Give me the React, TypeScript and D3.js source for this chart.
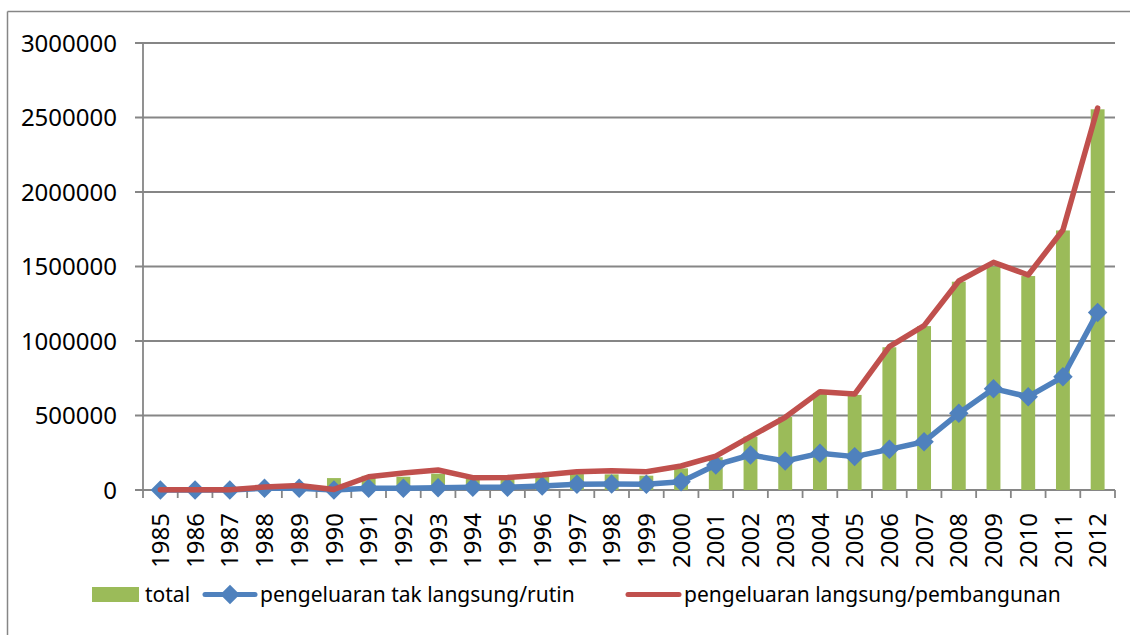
import React from 'react'
import * as d3 from 'd3'

// years on the category axis
const years = [
    '1985', '1986', '1987', '1988', '1989', '1990', '1991', '1992', '1993', '1994',
    '1995', '1996', '1997', '1998', '1999', '2000', '2001', '2002', '2003', '2004',
    '2005', '2006', '2007', '2008', '2009', '2010', '2011', '2012'
]

// total (bars)
const total = [
    5000, 3000, 4000, 25000, 35000, 80000, 95000, 89000, 110000, 80000,
    82000, 90000, 107000, 105000, 96000, 145000, 220000, 358000, 490000, 650000,
    638000, 958000, 1100000, 1398000, 1500000, 1436000, 1742000, 2555000
]

// pengeluaran tak langsung/rutin (blue line)
const rutin = [
    0, 0, 0, 11000, 12000, 0, 11000, 12000, 15000, 18000,
    19000, 27000, 38000, 40000, 38000, 56000, 168000, 235000, 195000, 246000,
    224000, 273000, 324000, 515000, 680000, 626000, 760000, 1192000
]

// pengeluaran langsung/pembangunan (red line)
const pembangunan = [
    2000, 2000, 2000, 20000, 30000, 4000, 89000, 114000, 134000, 83000,
    84000, 100000, 123000, 130000, 122000, 161000, 228000, 358000, 488000, 660000,
    644000, 962000, 1103000, 1403000, 1528000, 1443000, 1745000, 2563000
]

const yTicks = [0, 500000, 1000000, 1500000, 2000000, 2500000, 3000000]

const legendLabels = ['total', 'pengeluaran tak langsung/rutin', 'pengeluaran langsung/pembangunan']

const GREEN = '#9BBB59'
const BLUE = '#4F81BD'
const RED = '#C0504D'
const GRID = '#868686'
const FONT = '"Noto Sans", "Open Sans", sans-serif'

const W = 1130
const H = 635
const left = 143
const right = 1115
const top = 43
const bottom = 490

const App = () => {
    const x = d3.scaleBand().domain(years).range([left, right]).padding(0)
    const xBar = d3.scaleBand().domain(years).range([left, right]).paddingInner(0.6).paddingOuter(0.3)
    const y = d3.scaleLinear().domain([0, 3000000]).range([bottom, top])
    const cx = (yr: string) => (x(yr) as number) + x.bandwidth() / 2

    const line = d3.line<number>()
        .x((_, i) => cx(years[i]))
        .y((v) => y(v))

    const diamond = d3.symbol(d3.symbolSquare, 190)()

    const boundaries = years.map((yr) => x(yr) as number).concat([right])

    return (
        <div style={{ position: 'absolute', left: 0, top: 0 }}>
            <svg width={W} height={H} style={{ display: 'block', background: '#fff' }} fontFamily={FONT}>
                {/* outer chart border */}
                <line x1={7.5} x2={W} y1={11.5} y2={11.5} stroke={GRID} strokeWidth={1.5} />
                <line x1={7.5} x2={7.5} y1={11.5} y2={H} stroke={GRID} strokeWidth={1.5} />

                {/* gridlines + y labels */}
                {yTicks.map((t) => (
                    <g key={t}>
                        <line x1={left - 8} x2={right} y1={y(t)} y2={y(t)} stroke={GRID} strokeWidth={1.8} />
                        <text x={117} y={y(t)} dy="0.36em" textAnchor="end" fontSize={24} fill="#000">{t}</text>
                    </g>
                ))}

                {/* y axis line */}
                <line x1={left} x2={left} y1={top} y2={bottom} stroke={GRID} strokeWidth={1.8} />

                {/* x ticks */}
                {boundaries.map((b, i) => (
                    <line key={i} x1={b} x2={b} y1={bottom} y2={bottom + 8} stroke={GRID} strokeWidth={1.8} />
                ))}

                {/* bars */}
                {total.map((v, i) => (
                    <rect
                        key={i}
                        x={xBar(years[i])}
                        width={xBar.bandwidth()}
                        y={y(v)}
                        height={bottom - y(v)}
                        fill={GREEN}
                    />
                ))}

                {/* blue line with diamonds */}
                <path d={line(rutin) as string} fill="none" stroke={BLUE} strokeWidth={5.5} strokeLinejoin="round" />
                {rutin.map((v, i) => (
                    <path
                        key={i}
                        d={diamond as string}
                        fill={BLUE}
                        transform={`translate(${cx(years[i])}, ${y(v)}) rotate(45)`}
                    />
                ))}

                {/* red line */}
                <path d={line(pembangunan) as string} fill="none" stroke={RED} strokeWidth={5.5} strokeLinejoin="round" strokeLinecap="round" />

                {/* x labels */}
                {years.map((yr) => (
                    <text
                        key={yr}
                        transform={`translate(${cx(yr)}, 513) rotate(-90)`}
                        dy="0.36em"
                        textAnchor="end"
                        fontSize={24}
                        fill="#000"
                    >
                        {yr}
                    </text>
                ))}

                {/* legend */}
                <g>
                    <rect x={92} y={587} width={47} height={15} fill={GREEN} />
                    <text x={145} y={594.5} dy="0.36em" fontSize={21} fill="#000">{legendLabels[0]}</text>

                    <line x1={205} x2={255} y1={594.5} y2={594.5} stroke={BLUE} strokeWidth={5} strokeLinecap="round" />
                    <path d={diamond as string} fill={BLUE} transform="translate(230, 594.5) rotate(45)" />
                    <text x={260} y={594.5} dy="0.36em" fontSize={21} fill="#000">{legendLabels[1]}</text>

                    <line x1={628} x2={679} y1={594.5} y2={594.5} stroke={RED} strokeWidth={5} strokeLinecap="round" />
                    <text x={684} y={594.5} dy="0.36em" fontSize={21} fill="#000">{legendLabels[2]}</text>
                </g>
            </svg>
        </div>
    )
}

export default App
